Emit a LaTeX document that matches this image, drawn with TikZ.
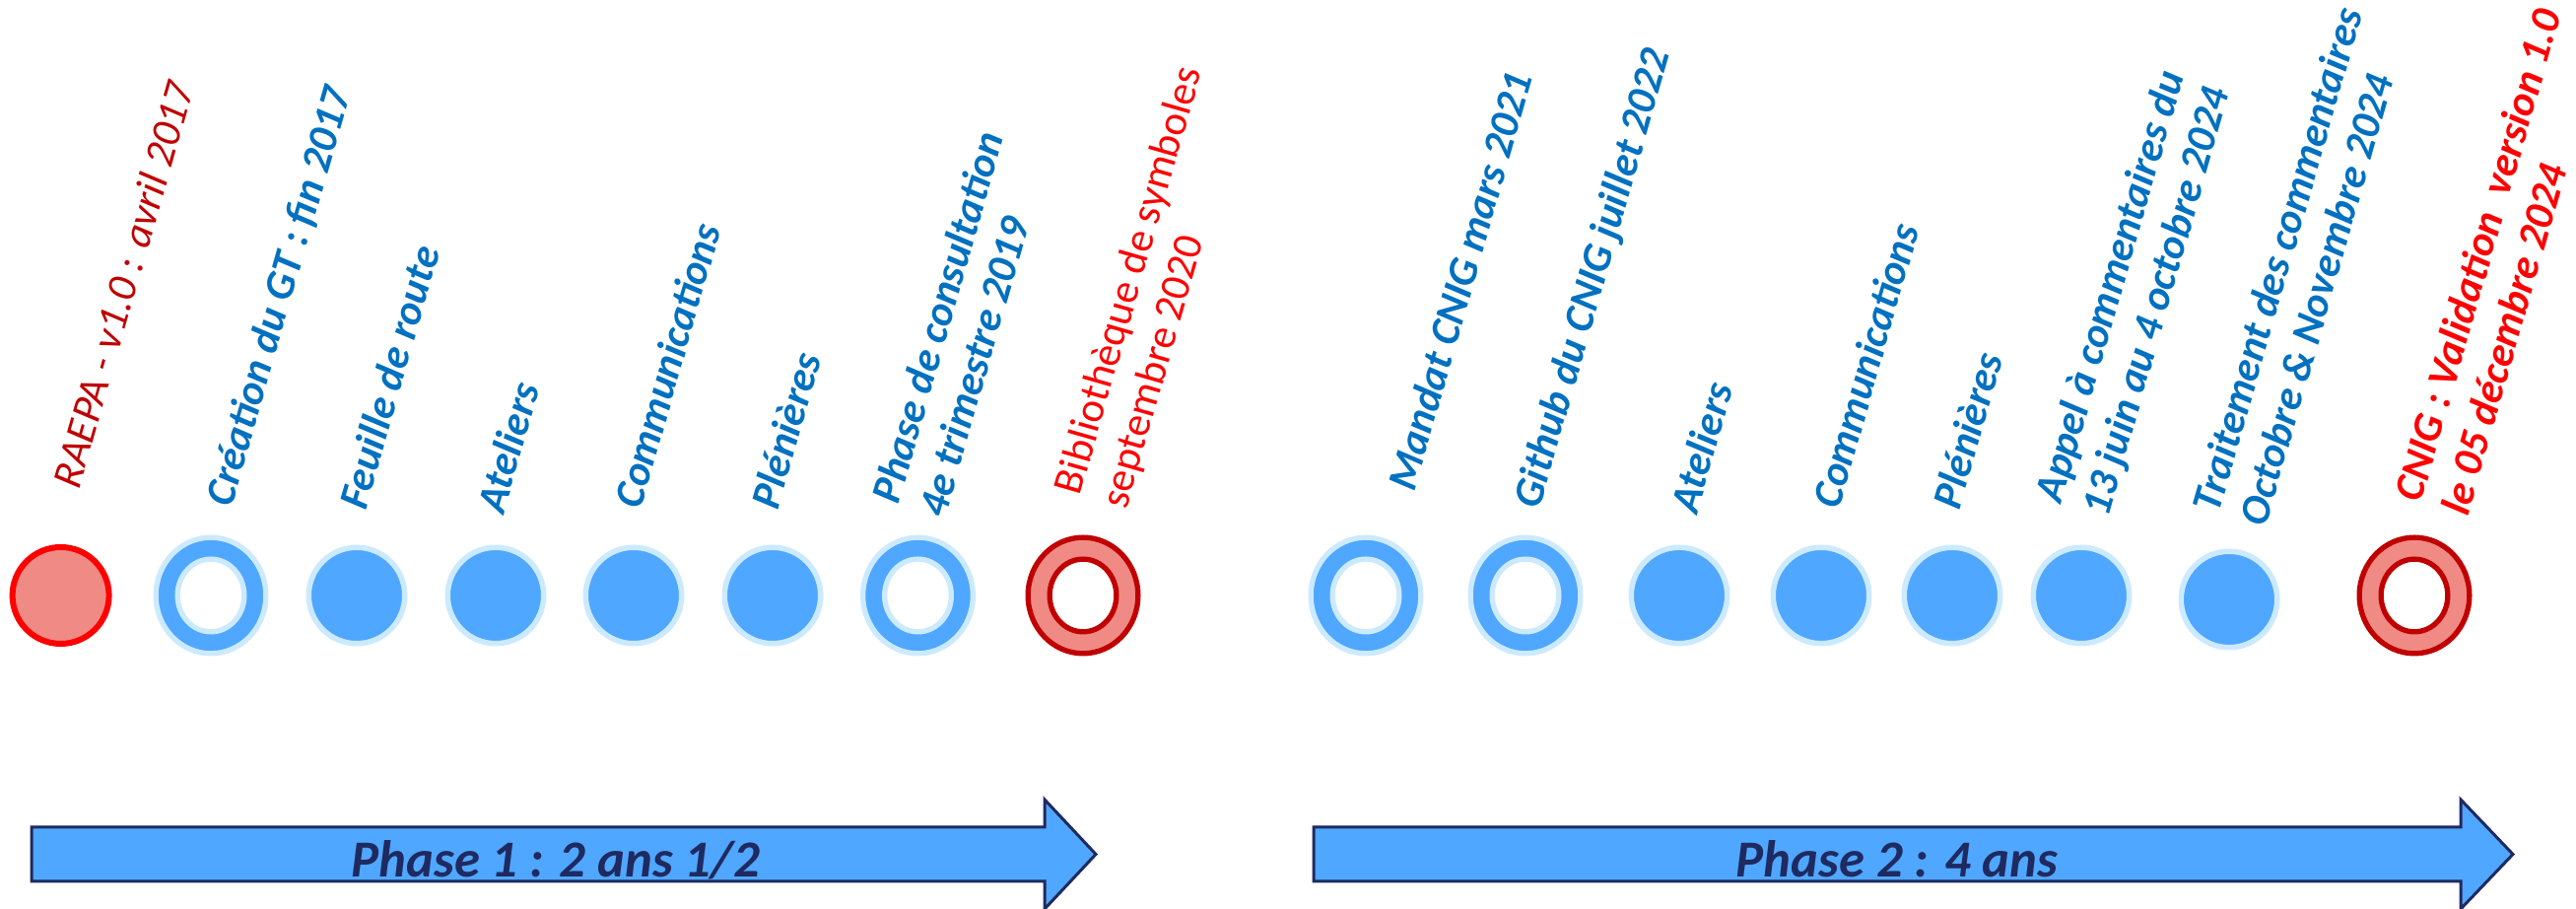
\documentclass[tikz,border=0pt]{standalone}
\usepackage{fontspec}
\setmainfont{Carlito}
\usetikzlibrary{shapes.geometric,positioning}

\definecolor{evblue}{HTML}{4FA7FF}
\definecolor{evlight}{HTML}{CCEAFF}
\definecolor{evsalmon}{HTML}{F08A85}
\definecolor{evdark}{HTML}{C00000}
\definecolor{evred}{HTML}{FF0000}
\definecolor{txtblue}{HTML}{0070C0}
\definecolor{navy}{HTML}{1F2A60}

\begin{document}
\begin{tikzpicture}
  \tikzstyle{evdot} = [circle, fill=evblue, draw=evlight, line width=0.55mm, minimum size=9.75mm, inner sep=0]
  \tikzstyle{evring} = [ellipse, fill=evblue, draw=evlight, line width=0.53mm, minimum width=11.17mm, minimum height=11.77mm, inner sep=0]
  \tikzstyle{evhole} = [ellipse, fill=white, draw=evlight, line width=0.53mm, minimum width=6.77mm, minimum height=7.37mm, inner sep=0]
  \tikzstyle{redring} = [evring, fill=evsalmon, draw=evdark]
  \tikzstyle{redhole} = [evhole, draw=evdark]
  \tikzstyle{reddot} = [circle, fill=evsalmon, draw=evred, line width=0.6mm, minimum size=9.8mm, inner sep=0]
  \tikzstyle{lbl} = [rotate=74, anchor=base west, inner sep=0, align=left, text=txtblue,
                     font=\fontsize{12.2}{14}\selectfont\bfseries\itshape]
  \tikzstyle{phase} = [fill=evblue, draw=navy, line width=0.3mm]
  \tikzstyle{phasetxt} = [anchor=base, text=navy, font=\fontsize{15}{18}\selectfont\bfseries\itshape]
  \useasboundingbox (0,0) rectangle (26.14,9.22);

  % phase 1
  \node (c1) [reddot] at (0.616,3.18) {};
  \node (c2) [evring] at (2.14,3.18) {};
  \node (c2h) [evhole] at (c2) {};
  \node (c3) [evdot] at (3.62,3.18) {};
  \node (c4) [evdot] at (5.03,3.18) {};
  \node (c5) [evdot] at (6.43,3.18) {};
  \node (c6) [evdot] at (7.84,3.18) {};
  \node (c7) [evring] at (9.315,3.18) {};
  \node (c7h) [evhole] at (c7) {};
  \node (c8) [redring] at (10.99,3.18) {};
  \node (c8h) [redhole] at (c8) {};

  % phase 2
  \node (c9) [evring] at (13.86,3.18) {};
  \node (c9h) [evhole] at (c9) {};
  \node (c10) [evring] at (15.48,3.18) {};
  \node (c10h) [evhole] at (c10) {};
  \node (c11) [evdot] at (17.04,3.18) {};
  \node (c12) [evdot] at (18.48,3.18) {};
  \node (c13) [evdot] at (19.81,3.18) {};
  \node (c14) [evdot] at (21.12,3.18) {};
  \node (c15) [evdot] at (22.62,3.14) {};
  \node (c16) [redring] at (24.50,3.18) {};
  \node (c16h) [redhole] at (c16) {};

  % labels (two lines: anchored on the last line)
  \node (l1) [lbl, text=evdark, font=\fontsize{12.2}{14}\selectfont\itshape] at (0.80,4.24) {RAEPA - v1.0 : avril 2017};
  \node (l2) [lbl] at (2.35,4.06) {Création du GT : fin 2017};
  \node (l3) [lbl] at (3.71,4.03) {Feuille de route};
  \node (l4) [lbl] at (5.11,3.99) {Ateliers};
  \node (l5) [lbl] at (6.50,4.04) {Communications};
  \node (l6) [lbl] at (7.89,4.03) {Plénières};
  \node (l7) [lbl] at (9.59,3.95) {Phase de consultation\\4e trimestre 2019};
  \node (l8) [lbl, text=evred, font=\fontsize{12.2}{14}\selectfont] at (11.43,4.04) {Bibliothèque de symboles\\septembre 2020};
  \node (l9) [lbl] at (14.35,4.22) {Mandat CNIG mars 2021};
  \node (l10) [lbl] at (15.62,4.04) {Github du CNIG juillet 2022};
  \node (l11) [lbl] at (17.22,3.99) {Ateliers};
  \node (l12) [lbl] at (18.66,4.04) {Communications};
  \node (l13) [lbl] at (19.88,4.03) {Plénières};
  \node (l14) [lbl] at (21.39,3.96) {Appel à commentaires du\\13 juin au 4 octobre 2024};
  \node (l15) [lbl] at (22.99,3.86) {Traitement des commentaires\\Octobre \& Novembre 2024};
  \node (l16) [lbl, text=evred] at (25.04,3.97) {CNIG : Validation\ \ version 1.0\\le 05 décembre 2024};

  % phase arrows
  \draw [phase] (0.32,0.28) -- (10.60,0.28) -- (10.60,0.0) -- (11.12,0.555)
    -- (10.60,1.11) -- (10.60,0.83) -- (0.32,0.83) -- cycle;
  \draw [phase] (13.33,0.28) -- (24.97,0.28) -- (24.97,0.0) -- (25.50,0.555)
    -- (24.97,1.11) -- (24.97,0.83) -- (13.33,0.83) -- cycle;
  \node (p1) [phasetxt] at (5.64,0.32) {Phase 1 : 2 ans 1/2};
  \node (p2) [phasetxt] at (19.25,0.32) {Phase 2 : 4 ans};
\end{tikzpicture}
\end{document}
